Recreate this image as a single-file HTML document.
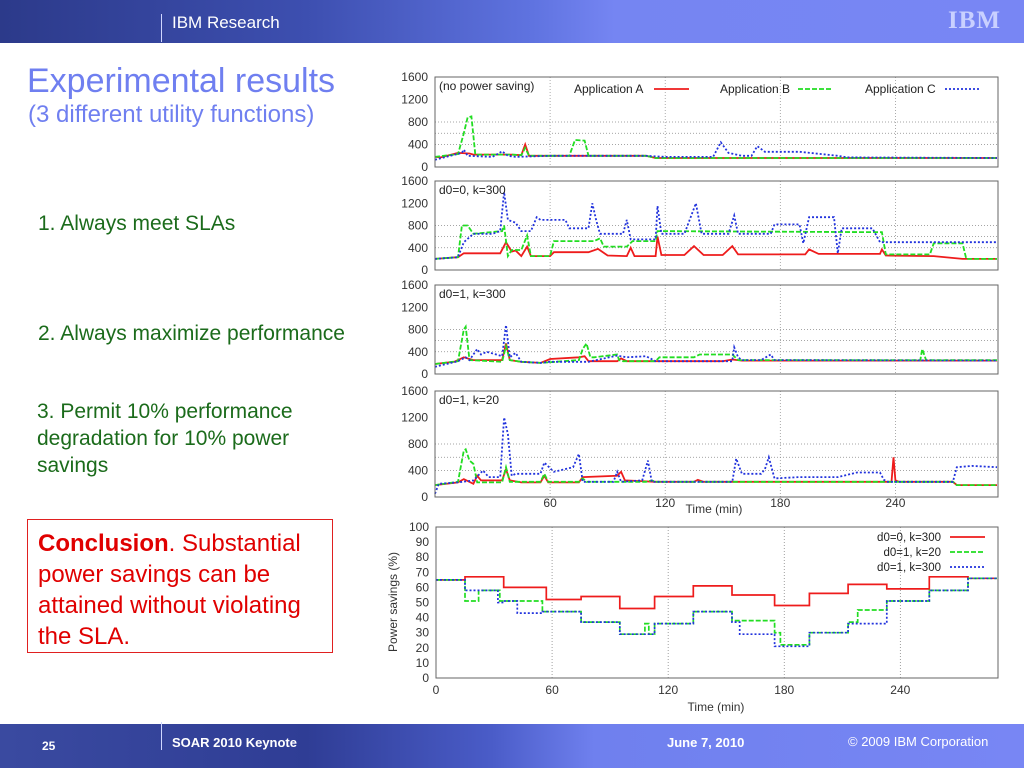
<!DOCTYPE html>
<html><head><meta charset="utf-8">
<style>
body{margin:0;width:1024px;height:768px;position:relative;overflow:hidden;background:#fff;font-family:"Liberation Sans",sans-serif}
.hdr{position:absolute;left:0;top:0;width:1024px;height:43px;background:linear-gradient(90deg,#2c3a8a 0%,#3d4fb0 30%,#5f73e0 52%,#7585f2 60%,#7886f4 100%)}
.ftr{position:absolute;left:0;top:724px;width:1024px;height:44px;background:linear-gradient(90deg,#3a4aa0 0%,#2f3d95 30%,#4a5cc8 48%,#6f80ee 58%,#7886f4 100%)}
.t{position:absolute;white-space:nowrap}
.g{color:#1b6b1b;font-size:21px}
</style></head><body>
<div class="hdr"></div>
<div class="t" style="left:161px;top:14px;width:1px;height:28px;background:#cfd6ff"></div>
<div class="t" style="left:172px;top:13px;color:#fff;font-size:17px">IBM Research</div>
<div class="t" style="left:948px;top:7px;color:#c9d0ff;font-size:25px;font-weight:bold;letter-spacing:1px;font-family:'Liberation Serif',serif">IBM</div>

<div class="t" style="left:27px;top:62px;color:#6f7ff0;font-size:34px">Experimental results</div>
<div class="t" style="left:28px;top:101px;color:#6f7ff0;font-size:24px">(3 different utility functions)</div>
<div class="t g" style="left:38px;top:212px">1. Always meet SLAs</div>
<div class="t g" style="left:38px;top:322px">2. Always maximize performance</div>
<div class="t g" style="left:37px;top:398px;line-height:27px;white-space:normal;width:300px">3. Permit 10% performance degradation for 10% power savings</div>
<div class="t" style="left:27px;top:519px;width:284px;height:116px;border:1px solid #e02020;padding:8px 10px;color:#e00000;font-size:24px;line-height:31px;white-space:normal"><b>Conclusion</b>. Substantial power savings can be attained without violating the SLA.</div>

<svg id="ch" width="1024" height="768" style="position:absolute;left:0;top:0"></svg>

<div class="ftr"></div>
<div class="t" style="left:161px;top:722px;width:1px;height:28px;background:#cfd6ff"></div>
<div class="t" style="left:42px;top:739px;color:#fff;font-size:12px;font-weight:bold">25</div>
<div class="t" style="left:172px;top:735px;color:#fff;font-size:13px;font-weight:bold">SOAR 2010 Keynote</div>
<div class="t" style="left:667px;top:735px;color:#fff;font-size:13px;font-weight:bold">June 7, 2010</div>
<div class="t" style="left:848px;top:734px;color:#fff;font-size:13px">© 2009 IBM Corporation</div>

<script>
// ---- top panels data (time min, value) ----
const p1A_t=[0,3,12,18,20,40,45,47,49,60,110,115,293];
const p1A_v=[180,170,250,240,220,220,210,400,200,200,200,160,160];
const p1B_t=[0,12,15,17,19,21,40,45,47,49,70,73,78,80,110,115,293];
const p1B_v=[180,230,600,880,900,220,220,210,340,200,200,480,470,200,200,160,160];
const p1C_t=[0,14,15,17,30,35,38,42,60,110,120,145,149,153,160,165,168,172,190,210,215,293];
const p1C_v=[130,250,310,200,180,280,200,180,200,200,180,180,440,250,200,200,370,270,270,200,170,160];

const p2A_t=[0,12,15,34,37,40,42,45,48,50,60,62,80,85,90,100,102,104,115,116,118,130,135,140,150,155,158,175,193,195,200,232,233,235,260,275,293];
const p2A_v=[200,230,300,300,500,330,350,250,420,250,250,320,320,380,260,250,400,250,250,600,270,270,430,270,270,430,280,280,280,370,290,290,370,260,250,200,200];
const p2B_t=[0,12,14,17,20,35,36,38,40,45,48,50,60,62,83,86,88,100,103,115,116,233,235,258,260,275,277,293];
const p2B_v=[200,230,800,800,650,700,800,250,360,360,620,250,250,520,520,570,420,420,520,520,700,680,280,280,480,480,200,200];
const p2C_t=[0,12,15,20,30,34,36,38,42,45,50,53,55,68,70,80,82,84,86,98,100,102,115,116,118,130,136,139,153,156,158,175,177,190,192,195,208,210,212,228,232,293];
const p2C_v=[200,230,500,650,650,700,1400,900,850,700,700,950,900,900,750,750,1200,900,650,650,900,550,550,1150,650,650,1200,650,650,980,650,650,820,820,480,950,950,300,750,750,500,500];

const p3A_t=[0,10,15,20,35,37,39,45,55,60,75,78,80,95,97,100,115,150,155,160,293];
const p3A_v=[180,220,300,250,250,550,250,220,200,270,300,320,230,230,280,230,230,230,260,240,240];
const p3B_t=[0,12,15,16,18,35,37,39,45,55,75,77,79,81,83,95,96,98,115,117,135,138,155,158,160,253,254,256,293];
const p3B_v=[180,230,800,850,250,220,500,250,220,200,250,450,550,300,300,350,250,230,230,300,300,350,350,250,250,250,450,250,250];
const p3C_t=[0,12,16,18,22,24,27,35,37,39,42,45,55,60,80,95,100,110,115,155,156,158,160,170,175,177,180,293];
const p3C_v=[130,230,300,250,450,350,400,320,880,300,380,220,200,220,220,330,300,320,230,230,480,300,250,250,350,250,250,240];

const p4A_t=[0,12,15,20,22,24,35,37,39,45,55,57,59,75,77,95,97,99,115,135,137,140,238,239,240,242,270,272,293];
const p4A_v=[180,220,270,200,320,250,250,420,250,220,220,320,220,220,300,320,380,250,230,230,260,230,230,600,250,230,230,180,180];
const p4B_t=[0,12,15,16,18,20,22,35,37,39,55,57,59,75,77,79,110,113,115,270,272,293];
const p4B_v=[180,230,700,720,550,500,220,220,450,230,230,350,230,230,280,230,230,250,230,230,180,180];
const p4C_t=[0,2,12,20,25,28,34,36,38,40,42,55,57,62,72,75,77,80,93,95,97,108,111,113,115,155,157,160,170,172,174,177,190,210,220,232,234,236,270,272,280,293];
const p4C_v=[50,200,220,250,400,300,300,1200,950,320,350,350,520,380,450,650,230,230,230,380,230,250,550,230,230,230,580,350,350,420,600,280,300,300,370,370,260,230,230,450,470,450];

// ---- bottom chart (step series) ----
const bTicksY=[0,10,20,30,40,50,60,70,80,90,100];
const bTicksX=[0,60,120,180,240];
const redT=[0,15,35,57,75,95,113,133,153,175,193,213,233,255,275,290];
const redV=[65,67,60,52,54,46,54,61,55,48,56,62,59,67,66,66];
const grnT=[0,15,22,33,55,75,95,108,110,113,133,153,175,178,193,213,218,233,255,275,290];
const grnV=[65,51,58,51,44,37,29,36,29,36,44,38,30,22,30,37,45,51,58,66,66];
const bluT=[0,15,32,35,42,55,75,95,113,133,153,157,175,193,213,233,255,275,290];
const bluV=[65,58,50,51,43,44,37,29,36,44,37,29,21,30,36,51,58,66,66];

const topTicksY=[0,400,800,1200,1600];
const topTicksX=[60,120,180,240];

const NS="http://www.w3.org/2000/svg";
const svg=document.getElementById('ch');
function mk(tag,at,parent){const e=document.createElementNS(NS,tag);for(const k in at)e.setAttribute(k,at[k]);(parent||svg).appendChild(e);return e;}
const COL={A:'#ee1c1c',B:'#22dd22',C:'#2233dd'};
const DASH={A:'',B:'5,2',C:'2,2'};

const X0=435,X1=998,TMAX=293.5;
function tx(t){return X0+(X1-X0)*t/TMAX;}

const panels=[
 {top:77,bot:167,label:'(no power saving)',name:'panel-no-power-saving',s:[[p1A_t,p1A_v,'A'],[p1B_t,p1B_v,'B'],[p1C_t,p1C_v,'C']]},
 {top:181,bot:270,label:'d0=0, k=300',name:'panel-d0-0-k300',s:[[p2A_t,p2A_v,'A'],[p2B_t,p2B_v,'B'],[p2C_t,p2C_v,'C']]},
 {top:285,bot:374,label:'d0=1, k=300',name:'panel-d0-1-k300',s:[[p3A_t,p3A_v,'A'],[p3B_t,p3B_v,'B'],[p3C_t,p3C_v,'C']]},
 {top:391,bot:497,label:'d0=1, k=20',name:'panel-d0-1-k20',s:[[p4A_t,p4A_v,'A'],[p4B_t,p4B_v,'B'],[p4C_t,p4C_v,'C']]}
];
panels.forEach((p,i)=>{
  const g=mk('g',{});
  
  
  const ty=v=>p.bot-(p.bot-p.top)*v/1600;
  [400,600,800].forEach(v=>mk('line',{x1:X0,x2:X1,y1:ty(v),y2:ty(v),stroke:'#888','stroke-width':0.7,'stroke-dasharray':'1,2'},g));
  topTicksX.forEach(t=>mk('line',{x1:tx(t),x2:tx(t),y1:p.top,y2:p.bot,stroke:'#888','stroke-width':0.7,'stroke-dasharray':'1,2'},g));
  topTicksY.forEach(v=>{
    const tl=mk('text',{x:428,y:ty(v)+4,'text-anchor':'end','font-size':12,fill:'#333','font-family':'Liberation Sans'},g);
    tl.textContent=v;
    
    
  });
  p.s.forEach(([T,V,k])=>{
    const pts=T.map((t,j)=>tx(t).toFixed(1)+','+ty(V[j]).toFixed(1)).join(' ');
    const pl=mk('polyline',{points:pts,fill:'none',stroke:COL[k],'stroke-width':1.8,'stroke-dasharray':DASH[k]},g);
    
    
  });
  mk('rect',{x:X0,y:p.top,width:X1-X0,height:p.bot-p.top,fill:'none',stroke:'#666','stroke-width':1},g);
  const lb=mk('text',{x:439,y:p.top+13,'font-size':12,fill:'#222','font-family':'Liberation Sans'},g);
  lb.textContent=p.label;
  
  
  if(i===3){
    topTicksX.forEach(t=>{
      const xl=mk('text',{x:tx(t),y:507,'text-anchor':'middle','font-size':12,fill:'#333','font-family':'Liberation Sans'},g);
      xl.textContent=t;
      
      
    });
    const xt=mk('text',{x:714,y:513,'text-anchor':'middle','font-size':12,fill:'#333','font-family':'Liberation Sans'},g);
    xt.textContent='Time (min)';
    
    
  }
});
// top legend
[['Application A','A',574,654],['Application B','B',720,798],['Application C','C',865,945]].forEach(([txt,k,lx,sx])=>{
  const t=mk('text',{x:lx,y:93,'font-size':12,fill:'#222','font-family':'Liberation Sans'});
  t.textContent=txt;
  
  
  mk('line',{x1:sx,x2:sx+35,y1:89,y2:89,stroke:COL[k],'stroke-width':1.8,'stroke-dasharray':DASH[k]});
});

// bottom chart
const BX0=436,BX1=998,BT=527,BB=678,BTMAX=290.5;
const bx=t=>BX0+(BX1-BX0)*t/BTMAX;
const by=v=>BB-(BB-BT)*v/100;
const bg=mk('g',{});


bTicksX.slice(1).forEach(t=>mk('line',{x1:bx(t),x2:bx(t),y1:BT,y2:BB,stroke:'#777','stroke-width':0.7,'stroke-dasharray':'1,2'},bg));
bTicksY.forEach(v=>{
  const l=mk('text',{x:429,y:by(v)+4,'text-anchor':'end','font-size':12,fill:'#333','font-family':'Liberation Sans'},bg);
  l.textContent=v;
  
  
});
bTicksX.forEach(t=>{
  const l=mk('text',{x:bx(t),y:694,'text-anchor':'middle','font-size':12,fill:'#333','font-family':'Liberation Sans'},bg);
  l.textContent=t;
  
  
});
function step(T,V){let d='';for(let j=0;j<T.length;j++){const x=bx(T[j]).toFixed(1),y=by(V[j]).toFixed(1);if(j===0)d+='M'+x+','+y;else d+=' L'+x+','+by(V[j-1]).toFixed(1)+' L'+x+','+y;}return d;}
[[redT,redV,'A','series-d0-0-k300'],[grnT,grnV,'B','series-d0-1-k20'],[bluT,bluV,'C','series-d0-1-k300']].forEach(([T,V,k,n])=>{
  const p=mk('path',{d:step(T,V),fill:'none',stroke:COL[k],'stroke-width':1.7,'stroke-dasharray':DASH[k]},bg);
  
  
});
mk('rect',{x:BX0,y:BT,width:BX1-BX0,height:BB-BT,fill:'none',stroke:'#666','stroke-width':1},bg);
[['d0=0, k=300','A',541],['d0=1, k=20','B',556],['d0=1, k=300','C',571]].forEach(([txt,k,y])=>{
  const t=mk('text',{x:941,y:y,'text-anchor':'end','font-size':11.5,fill:'#222','font-family':'Liberation Sans'},bg);
  t.textContent=txt;
  
  
  mk('line',{x1:950,x2:985,y1:y-4,y2:y-4,stroke:COL[k],'stroke-width':1.8,'stroke-dasharray':DASH[k]},bg);
});
const xtb=mk('text',{x:716,y:711,'text-anchor':'middle','font-size':12,fill:'#333','font-family':'Liberation Sans'},bg);
xtb.textContent='Time (min)';


const ytb=mk('text',{x:0,y:0,'text-anchor':'middle','font-size':12,fill:'#333','font-family':'Liberation Sans',transform:'translate(397,602) rotate(-90)'},bg);
ytb.textContent='Power savings (%)';


</script>
</body></html>
